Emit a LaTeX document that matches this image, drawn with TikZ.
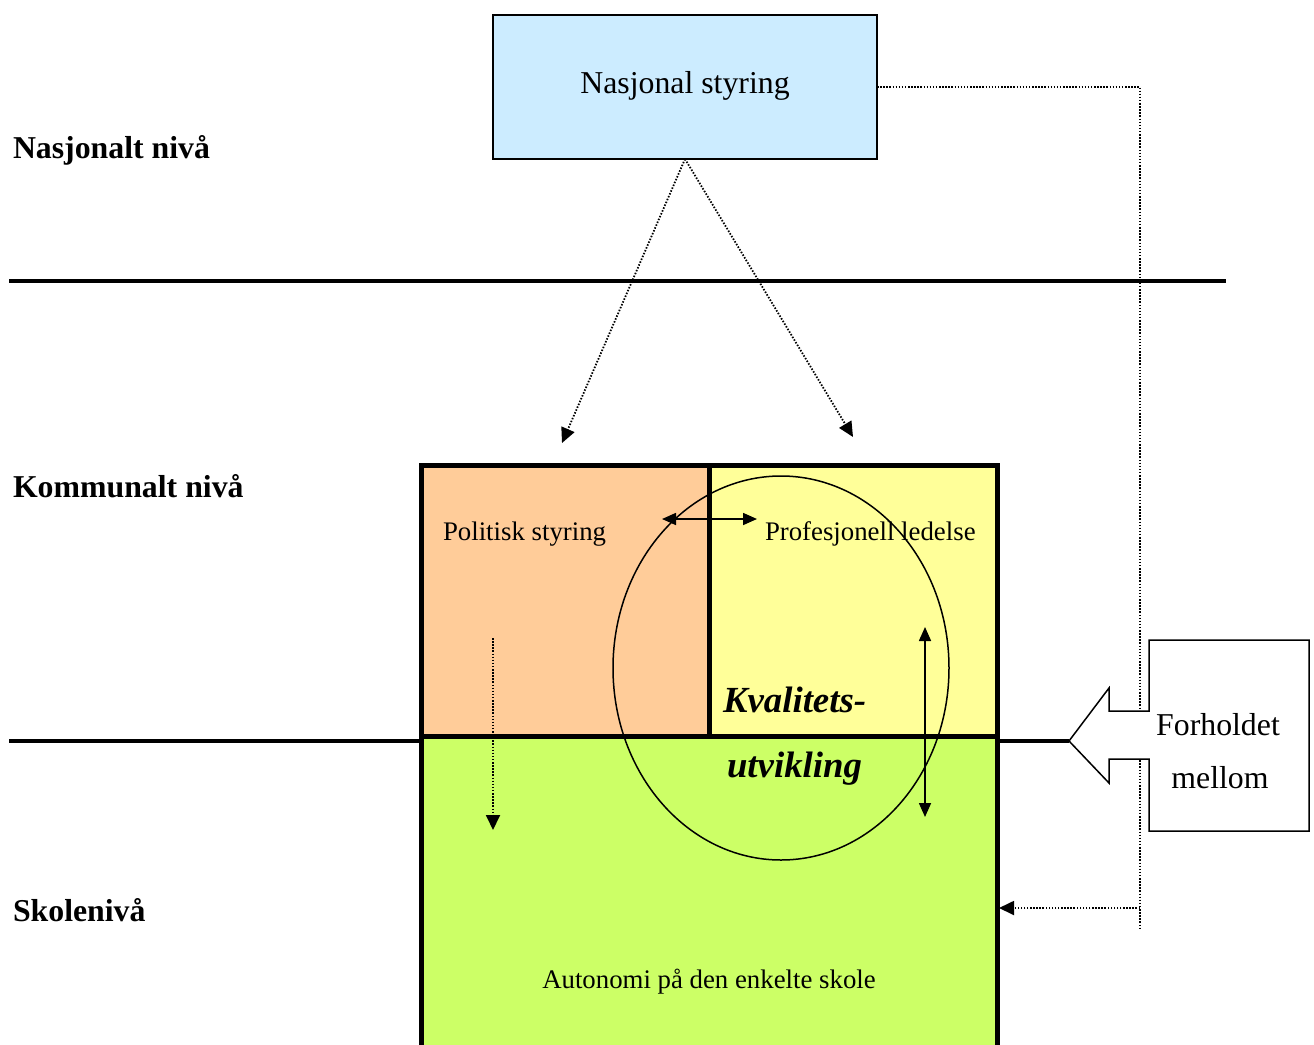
\documentclass[tikz,border=0pt]{standalone}
\usepackage{fontspec}
\setmainfont{Liberation Serif}
\usetikzlibrary{arrows.meta}
\definecolor{nasblue}{HTML}{CCECFF}
\definecolor{polorange}{HTML}{FFCC99}
\definecolor{profyellow}{HTML}{FFFF99}
\definecolor{skolegreen}{HTML}{CCFF66}
\begin{document}
\begin{tikzpicture}[x=1pt,y=-1pt,
  every node/.style={inner sep=0pt, outer sep=0pt},
  txt/.style={font=\fontsize{26.8}{30}\selectfont, anchor=base west},
  bigtxt/.style={font=\fontsize{31.8}{36}\selectfont},
  leveltxt/.style={font=\fontsize{31.8}{36}\selectfont\bfseries, anchor=base west},
  kvtxt/.style={font=\fontsize{36.8}{40}\selectfont\bfseries\itshape, anchor=base west},
  levelline/.style={line width=4.5pt},
  frame/.style={line width=5pt},
  dots/.style={line width=1.8pt, dash pattern=on 1.5pt off 1.6pt},
  tri/.style={-{Triangle[length=15pt,width=14pt]}},
  dtri/.style={{Triangle[length=14pt,width=12pt]}-{Triangle[length=14pt,width=12pt]}, line width=1.6pt}
]
\useasboundingbox (0,0) rectangle (1314,1044);

% national steering box
\node[draw, fill=nasblue, line width=2pt, minimum width=384pt, minimum height=144pt]
  (nasjonal) at (685,87) {};
\node[bigtxt, anchor=base] (nastxt) at (685,93) {Nasjonal styring};

% level separators
\draw[levelline] (9,281) -- (1226,281);
\draw[levelline] (9,741) -- (421,741);

% level labels
\node[leveltxt] (nivaa1) at (13,158) {Nasjonalt nivå};
\node[leveltxt] (nivaa2) at (13,497) {Kommunalt nivå};
\node[leveltxt] (nivaa3) at (13,921) {Skolenivå};

% municipal and school fields
\fill[polorange] (421,465) rectangle (709,736);
\fill[profyellow] (709,465) rectangle (997,736);
\fill[skolegreen] (421,736) rectangle (997,1050);

\draw[frame] (421,1050) -- (421,465) -- (997,465) -- (997,1050);
\draw[frame] (709,465) -- (709,736);
\draw[frame] (421,736) -- (997,736);

% texts in the fields
\node[txt] (polit) at (443,540) {Politisk styring};
\node[txt] (prof) at (765,540) {Profesjonell ledelse};
\node[txt, anchor=base] (autonomi) at (709,988) {Autonomi på den enkelte skole};

% quality development circle
\draw[line width=1.5pt] (781,668) ellipse [x radius=168, y radius=192];
\node[kvtxt] (kv1) at (723,712) {Kvalitets-};
\node[kvtxt] (kv2) at (727,777) {utvikling};

% arrows inside the fields
\coordinate (hl) at (662,519);
\coordinate (hr) at (757,519);
\draw[dtri] (hl) -- (hr);
\coordinate (vt) at (925,627);
\coordinate (vb) at (925,817);
\draw[dtri] (vt) -- (vb);
\coordinate (pd1) at (493,638);
\coordinate (pd2) at (493,830);
\draw[dots, tri] (pd1) -- (pd2);

% national steering towards the municipal level
\coordinate (ltip) at (562,443);
\coordinate (rtip) at (853,437);
\draw[dots, tri] (nasjonal.south) -- (ltip);
\draw[dots, tri] (nasjonal.south) -- (rtip);

% direct line to the school level
\coordinate (bend) at (1140,87);
\coordinate (foot) at (1140,928);
\coordinate (tap) at (1140,908);
\coordinate (skoleedge) at (999,908);
\draw[dots] (nasjonal.east) -- (bend) -- (foot);
\draw[dots, tri] (tap) -- (skoleedge);

% right part of the lower separator
\coordinate (calltip) at (1069,741);
\draw[levelline] (997,741) -- (calltip);

% callout
\draw[line width=1.5pt, fill=white, line join=miter]
  (1149,640) -- (1309,640) -- (1309,831) -- (1149,831) -- (1149,759)
  -- (1109,759) -- (1109,783) -- (calltip) -- (1109,688) -- (1109,711)
  -- (1149,711) -- cycle;
\node[bigtxt, anchor=base] (forh1) at (1218,735) {Forholdet};
\node[bigtxt, anchor=base] (forh2) at (1220,788) {mellom};
\end{tikzpicture}
\end{document}
